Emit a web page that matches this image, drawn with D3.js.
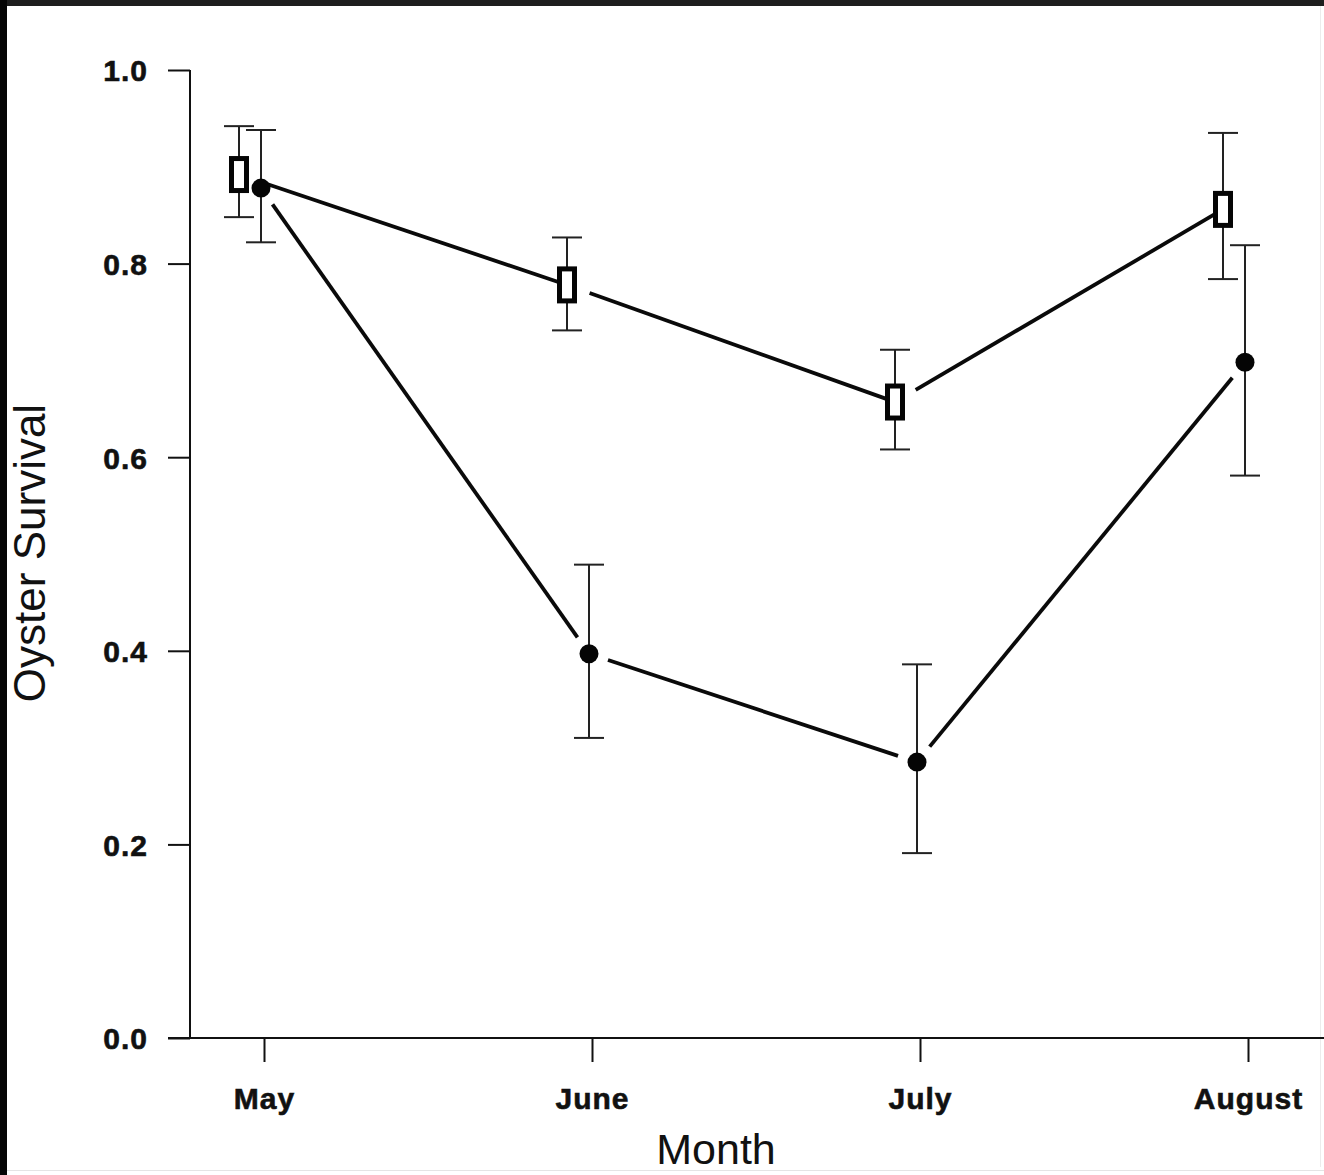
<!DOCTYPE html>
<html>
  <head>
    <meta charset="UTF-8" />
    <title>Oyster Survival by Month</title>
    <script src="https://cdn.jsdelivr.net/npm/d3@7"></script>
    <style>
      body {
        margin: 0;
        background: #fff;
      }
      svg text {
        font-family: "Liberation Sans", Arial, sans-serif;
        fill: #111;
      }
    </style>
  </head>
  <body>
    <div class="chart"></div>

    <script>
      // values
      let months = ["May", "June", "July", "August"];
      let yTicks = [0.0, 0.2, 0.4, 0.6, 0.8, 1.0];

      // open squares
      let openMean = [0.892, 0.778, 0.657, 0.856];
      let openLow = [0.848, 0.731, 0.608, 0.784];
      let openHigh = [0.942, 0.827, 0.711, 0.935];

      // filled circles
      let filledMean = [0.878, 0.397, 0.285, 0.698];
      let filledLow = [0.822, 0.31, 0.191, 0.581];
      let filledHigh = [0.938, 0.489, 0.386, 0.819];

      let width = 1324;
      let height = 1175;

      let svg = d3
        .select(".chart")
        .append("svg")
        .attr("width", width)
        .attr("height", height);

      svg.append("rect").attr("width", width).attr("height", height).attr("fill", "#fff");

      // dark frame remnants of the scanned page
      svg.append("rect").attr("x", 0).attr("y", 0).attr("width", width).attr("height", 6).attr("fill", "#1e1e1e");
      svg.append("rect").attr("x", 0).attr("y", 0).attr("width", 7).attr("height", height).attr("fill", "#050505");
      svg.append("line").attr("x1", 7).attr("x2", width).attr("y1", 1170.5).attr("y2", 1170.5)
        .attr("stroke", "#e4e4e4").attr("stroke-width", 1);
      svg.append("line").attr("x1", 1320.5).attr("x2", 1320.5).attr("y1", 6).attr("y2", 1167)
        .attr("stroke", "#ececec").attr("stroke-width", 1);

      let x = d3.scalePoint().domain(months).range([264, 1248]);
      let y = d3.scaleLinear().domain([0, 1]).range([1038, 70]);

      // axes
      let yAxis = svg
        .append("g")
        .attr("transform", "translate(190,0)")
        .call(
          d3.axisLeft(y).tickValues(yTicks).tickFormat(d3.format(".1f")).tickSize(22).tickPadding(20)
        );
      yAxis.select(".domain").attr("d", `M0,${y(1)}V${y(0)}`).attr("stroke", "#111").attr("stroke-width", 2);
      yAxis.selectAll(".tick line").attr("stroke", "#111").attr("stroke-width", 2);
      yAxis
        .selectAll(".tick text")
        .attr("font-size", 30)
        .attr("font-weight", "bold")
        .attr("letter-spacing", 1)
        .attr("stroke", "#111")
        .attr("stroke-width", 0.6)
        .attr("dy", "0.36em");

      let xAxis = svg
        .append("g")
        .attr("transform", `translate(0,${y(0)})`)
        .call(d3.axisBottom(x).tickSize(24).tickPadding(26));
      xAxis.select(".domain").attr("d", `M168,0H${width}`).attr("stroke", "#111").attr("stroke-width", 2);
      xAxis.selectAll(".tick line").attr("stroke", "#111").attr("stroke-width", 2);
      xAxis
        .selectAll(".tick text")
        .attr("font-size", 30)
        .attr("font-weight", "bold")
        .attr("letter-spacing", 1)
        .attr("stroke", "#111")
        .attr("stroke-width", 0.6);

      svg
        .append("text")
        .attr("transform", "translate(45,553) rotate(-90)")
        .attr("text-anchor", "middle")
        .attr("font-size", 44)
        .text("Oyster Survival");

      svg
        .append("text")
        .attr("x", 716)
        .attr("y", 1164)
        .attr("text-anchor", "middle")
        .attr("font-size", 43)
        .text("Month");

      // series drawing
      function drawSeries(mean, low, high, dx, trimStart, trimEnd) {
        let g = svg.append("g");
        let pts = months.map((m, i) => ({
          x: x(m) + dx,
          y: y(mean[i]),
          lo: y(low[i]),
          hi: y(high[i]),
        }));

        // connecting segments, trimmed near the markers
        for (let i = 0; i < pts.length - 1; i++) {
          let a = pts[i];
          let b = pts[i + 1];
          let len = Math.hypot(b.x - a.x, b.y - a.y);
          let ux = (b.x - a.x) / len;
          let uy = (b.y - a.y) / len;
          g.append("line")
            .attr("x1", a.x + ux * trimStart)
            .attr("y1", a.y + uy * trimStart)
            .attr("x2", b.x - ux * trimEnd)
            .attr("y2", b.y - uy * trimEnd)
            .attr("stroke", "#0a0a0a")
            .attr("stroke-width", 3.8);
        }

        // error bars
        pts.forEach((p) => {
          g.append("line").attr("x1", p.x).attr("x2", p.x).attr("y1", p.hi).attr("y2", p.lo)
            .attr("stroke", "#222").attr("stroke-width", 2);
          [p.hi, p.lo].forEach((v) => {
            g.append("line").attr("x1", p.x - 15).attr("x2", p.x + 15).attr("y1", v).attr("y2", v)
              .attr("stroke", "#222").attr("stroke-width", 2);
          });
        });
        return { g, pts };
      }

      let open = drawSeries(openMean, openLow, openHigh, -25, 24, 10);
      let filled = drawSeries(filledMean, filledLow, filledHigh, -3, 20, 20);

      open.g
        .selectAll("rect.mark")
        .data(open.pts)
        .enter()
        .append("rect")
        .attr("class", "mark")
        .attr("x", (d) => d.x - 7.5)
        .attr("y", (d) => d.y - 16)
        .attr("width", 15)
        .attr("height", 32)
        .attr("fill", "#fff")
        .attr("stroke", "#050505")
        .attr("stroke-width", 5);

      filled.g
        .selectAll("circle")
        .data(filled.pts)
        .enter()
        .append("circle")
        .attr("cx", (d) => d.x)
        .attr("cy", (d) => d.y)
        .attr("r", 9.5)
        .attr("fill", "#050505");
    </script>
  </body>
</html>
